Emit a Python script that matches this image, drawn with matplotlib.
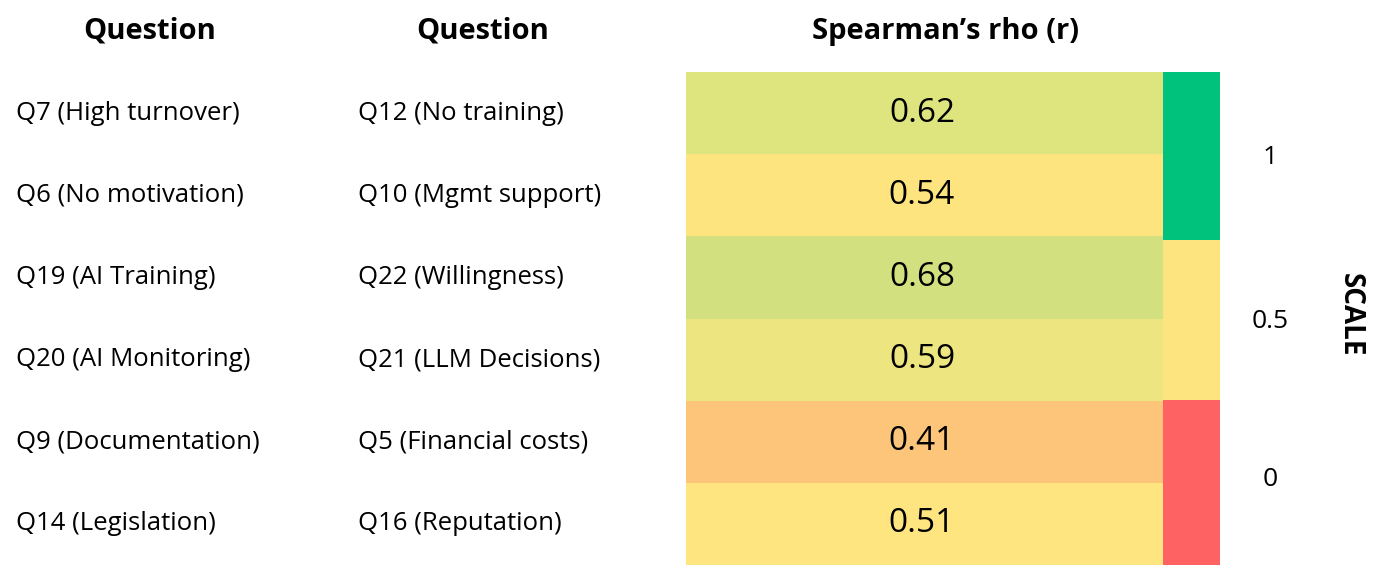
import numpy as np
import matplotlib.pyplot as plt
from matplotlib.colors import LinearSegmentedColormap, ListedColormap

q_left = ['Q7 (High turnover)', 'Q6 (No motivation)', 'Q19 (AI Training)',
          'Q20 (AI Monitoring)', 'Q9 (Documentation)', 'Q14 (Legislation)']
q_right = ['Q12 (No training)', 'Q10 (Mgmt support)', 'Q22 (Willingness)',
           'Q21 (LLM Decisions)', 'Q5 (Financial costs)', 'Q16 (Reputation)']
rho = [0.62, 0.54, 0.68, 0.59, 0.41, 0.51]
scale_labels = ['1', '0.5', '0']
scale_colors = ['#00c27c', '#fde47f', '#ff6262']

plt.rcParams['font.family'] = ['Open Sans', 'DejaVu Sans']
fig = plt.figure(figsize=(13.8, 5.84), dpi=100)
ax = fig.add_axes([0, 0, 1, 1])
ax.set_xlim(0, 1380)
ax.set_ylim(584, 0)
ax.axis('off')

cmap = LinearSegmentedColormap.from_list('rygn', [
    (0, '#f8696b'), (0.3, '#fdc67a'), (0.44, '#fee580'), (0.49, '#fde47f'),
    (0.56, '#ece57f'), (0.6, '#dee57f'), (0.69, '#d2e07f'), (1, '#63be7b')])
vals = np.array(rho).reshape(-1, 1)
top, bot = 72, 565
edges_y = np.linspace(top, bot, len(rho) + 1)
ax.pcolormesh([686, 1163], edges_y, vals, cmap=cmap, vmin=0.2, vmax=0.9)

# scale bar
sy = [72, 240, 400, 565]
ax.pcolormesh([1163, 1220], sy, np.arange(3).reshape(-1, 1),
              cmap=ListedColormap(scale_colors), vmin=-0.5, vmax=2.5)

hdr = dict(fontsize=21, fontweight='bold', ha='center', va='center')
ax.text(150, 31, 'Question', **hdr)
ax.text(483, 31, 'Question', **hdr)
ax.text(945, 31, 'Spearman\u2019s rho (r)', **hdr)

for i in range(len(rho)):
    yc = (edges_y[i] + edges_y[i + 1]) / 2
    ax.text(16, yc, q_left[i], fontsize=18.5, va='center', ha='left')
    ax.text(358, yc, q_right[i], fontsize=18.5, va='center', ha='left')
    ax.text(922, yc, f'{rho[i]:.2f}', fontsize=24, va='center', ha='center')

for lab, yc in zip(scale_labels, [157, 322, 480]):
    ax.text(1270, yc, lab, fontsize=19, va='center', ha='center')
ax.text(1350, 315, 'SCALE', fontsize=20, fontweight='bold', rotation=-90,
        va='center', ha='center')

fig.savefig('out.png', dpi=100)
